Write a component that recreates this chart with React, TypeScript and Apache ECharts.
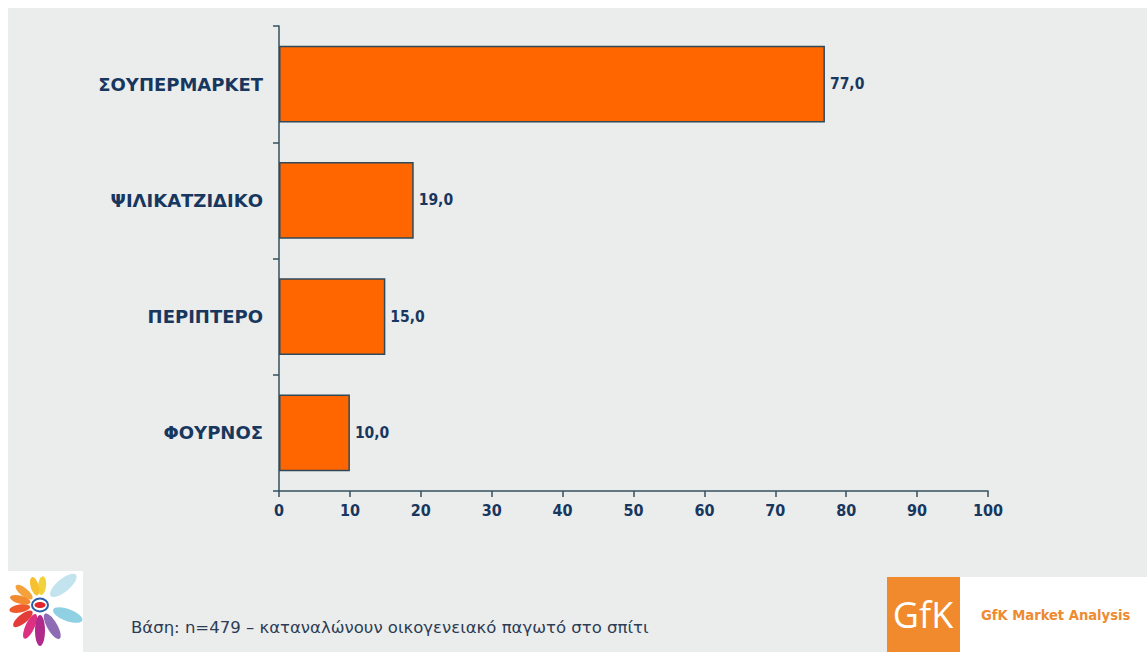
import React, { useEffect, useRef } from "react";
import * as echarts from "echarts";

const categories = ["ΣΟΥΠΕΡΜΑΡΚΕΤ", "ΨΙΛΙΚΑΤΖΙΔΙΚΟ", "ΠΕΡΙΠΤΕΡΟ", "ΦΟΥΡΝΟΣ"];
const values = [77.0, 19.0, 15.0, 10.0];
const axisMin = 0;
const axisMax = 100;
const axisStep = 10;
const footnote = "Βάση: n=479 – καταναλώνουν οικογενειακό παγωτό στο σπίτι";
const brandBox = "GfK";
const brandText = "GfK Market Analysis";

const NAVY = "#17375e";
const AXIS = "#34505f";
const FONT = "'DejaVu Sans', sans-serif";
const FONT_C = "'DejaVu Sans Condensed', 'DejaVu Sans', sans-serif";

// flower logo petals: [angle deg (screen), inner r, outer r, width, color]
const petals: [number, number, number, number, string][] = [
  [-40, 14, 47, 13, "#c3e4ee"],
  [-84, 10, 29, 8, "#f2d23a"],
  [-106, 10, 29, 8, "#f6c030"],
  [-141, 10, 31, 8, "#f5a23c"],
  [-165, 10, 31, 8, "#f28a30"],
  [170, 10, 31, 8, "#ee5a2c"],
  [141, 10, 34, 9, "#e43c38"],
  [115, 10, 37, 9, "#de3080"],
  [90, 10, 41, 10, "#b02a8c"],
  [60, 10, 39, 10, "#8e6cb4"],
  [20, 14, 45, 12, "#8fd0e2"],
];
const flowerCenter = [40, 605];

export default function App() {
  const ref = useRef<HTMLDivElement>(null);
  useEffect(() => {
    if (!ref.current) return;
    const chart = echarts.init(ref.current, undefined, { renderer: "svg" });
    const petalEls = petals.map(([deg, rIn, rOut, w, color]) => {
      const a = (deg * Math.PI) / 180;
      const r = (rIn + rOut) / 2;
      return {
        type: "ellipse",
        x: flowerCenter[0] + r * Math.cos(a),
        y: flowerCenter[1] + r * Math.sin(a),
        rotation: -a,
        shape: { cx: 0, cy: 0, rx: (rOut - rIn) / 2, ry: w / 2 },
        style: { fill: color },
        z: 2,
      };
    });
    chart.setOption({
      animation: false,
      backgroundColor: "#ffffff",
      grid: { left: 279, right: 159, top: 26, bottom: 161, containLabel: false },
      xAxis: {
        type: "value",
        min: axisMin,
        max: axisMax,
        interval: axisStep,
        axisLine: { show: true, lineStyle: { color: AXIS, width: 1.5 } },
        axisTick: { show: true, length: 6, lineStyle: { color: AXIS, width: 1.5 } },
        splitLine: { show: false },
        axisLabel: {
          color: NAVY,
          fontFamily: FONT_C,
          fontWeight: "bold",
          fontSize: 16,
          margin: 11,
        },
      },
      yAxis: {
        type: "category",
        data: categories,
        inverse: true,
        axisLine: { show: true, lineStyle: { color: AXIS, width: 1.5 } },
        axisTick: { show: true, length: 6, lineStyle: { color: AXIS, width: 1.5 } },
        axisLabel: {
          color: NAVY,
          fontFamily: FONT,
          fontWeight: "bold",
          fontSize: 18,
          margin: 16,
        },
      },
      series: [
        {
          type: "bar",
          data: values,
          barWidth: "66%",
          itemStyle: { color: "#ff6600", borderColor: "#2f4a5a", borderWidth: 1.5 },
          label: {
            show: true,
            position: "right",
            distance: 5,
            color: NAVY,
            fontFamily: FONT_C,
            fontWeight: "bold",
            fontSize: 15.5,
            formatter: (p: any) => Number(p.value).toFixed(1).replace(".", ","),
          },
        },
      ],
      graphic: [
        {
          type: "rect",
          shape: { x: 8, y: 8, width: 1139, height: 644 },
          style: { fill: "#ebecec" },
          z: -10,
          silent: true,
        },
        {
          type: "rect",
          shape: { x: 8, y: 571, width: 75, height: 81 },
          style: { fill: "#ffffff" },
          z: 1,
        },
        ...petalEls,
        {
          type: "ellipse",
          shape: { cx: flowerCenter[0], cy: flowerCenter[1], rx: 8, ry: 6.5 },
          style: { fill: "#ffffff", stroke: "#2a5fa8", lineWidth: 2 },
          z: 3,
        },
        {
          type: "ellipse",
          shape: { cx: flowerCenter[0], cy: flowerCenter[1], rx: 5.5, ry: 3 },
          style: { fill: "#e0262c" },
          z: 4,
        },
        {
          type: "text",
          x: 131,
          y: 627,
          style: {
            text: footnote,
            fill: "#2b3d55",
            fontFamily: FONT,
            fontSize: 16.5,
            textVerticalAlign: "middle",
          },
          z: 2,
        },
        {
          type: "rect",
          shape: { x: 887, y: 577, width: 260, height: 75 },
          style: { fill: "#ffffff" },
          z: 1,
        },
        {
          type: "rect",
          shape: { x: 887, y: 577, width: 73, height: 75 },
          style: { fill: "#f08a2c" },
          z: 2,
        },
        {
          type: "text",
          x: 923,
          y: 614,
          style: {
            text: brandBox,
            fill: "#ffffff",
            fontFamily: "'Open Sans', 'DejaVu Sans', sans-serif",
            fontSize: 36,
            textAlign: "center",
            textVerticalAlign: "middle",
          },
          z: 3,
        },
        {
          type: "text",
          x: 981,
          y: 614,
          style: {
            text: brandText,
            fill: "#ee8a30",
            fontFamily: FONT_C,
            fontWeight: "bold",
            fontSize: 14.6,
            textVerticalAlign: "middle",
          },
          z: 3,
        },
      ],
    });
    return () => chart.dispose();
  }, []);
  return (
    <div
      ref={ref}
      style={{ position: "fixed", left: 0, top: 0, width: 1147, height: 652 }}
    />
  );
}
